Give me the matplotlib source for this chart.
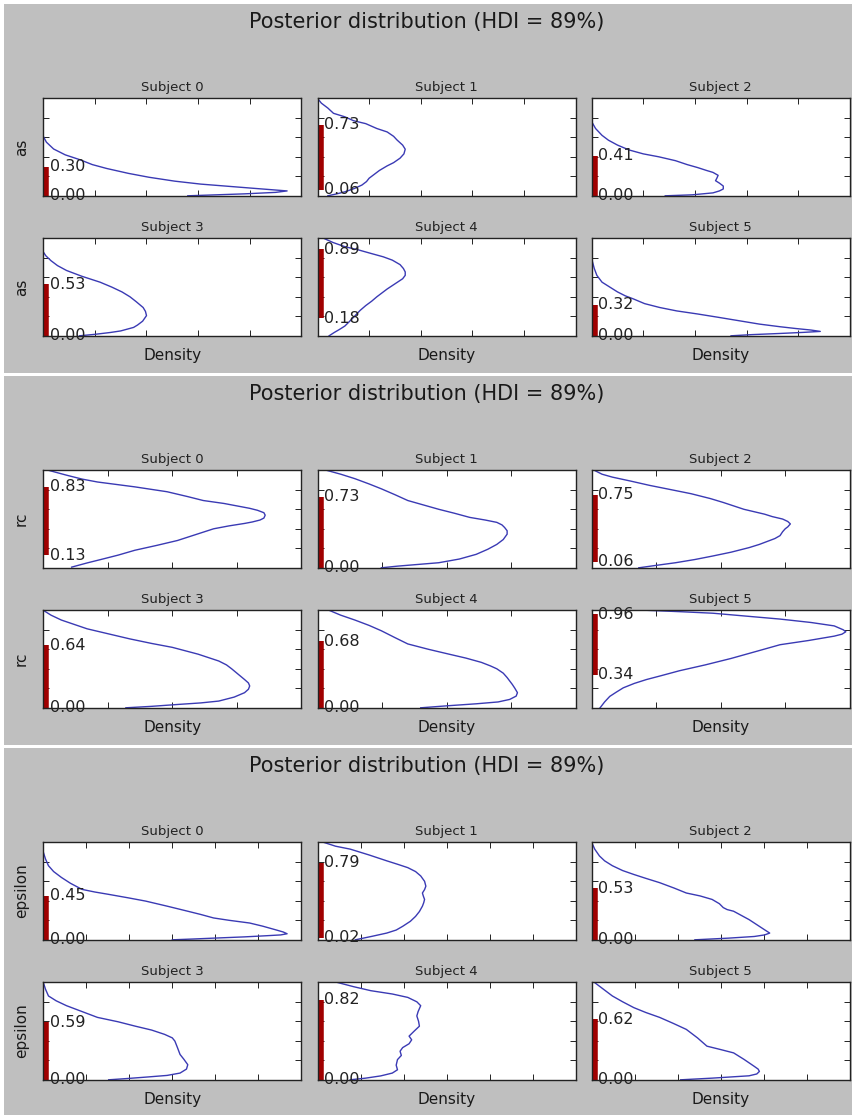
import matplotlib
matplotlib.use("Agg")
import matplotlib.pyplot as plt
from matplotlib.patches import Rectangle

# ---- data ----
subjects = ["Subject 0", "Subject 1", "Subject 2", "Subject 3", "Subject 4", "Subject 5"]
params = ["as", "rc", "epsilon"]
hdi_title = "Posterior distribution (HDI = 89%)"

# HDI bounds per subject
as_lo = [0.00, 0.06, 0.00, 0.00, 0.18, 0.00]
as_hi = [0.30, 0.73, 0.41, 0.53, 0.89, 0.32]
rc_lo = [0.13, 0.00, 0.06, 0.00, 0.00, 0.34]
rc_hi = [0.83, 0.73, 0.75, 0.64, 0.68, 0.96]
eps_lo = [0.00, 0.02, 0.00, 0.00, 0.00, 0.00]
eps_hi = [0.45, 0.79, 0.53, 0.59, 0.82, 0.62]

# density curves: parameter value (y) and density (x), one list per subject
as_y = [
    [0.61, 0.55, 0.48, 0.42, 0.37, 0.32, 0.28, 0.23, 0.19, 0.15, 0.12, 0.08, 0.05, 0.035, 0.02, 0.01, 0.0],
    [1.0, 0.95, 0.9, 0.846, 0.81, 0.77, 0.74, 0.69, 0.655, 0.61, 0.573, 0.52, 0.478, 0.43, 0.386, 0.34,
     0.307, 0.26, 0.22, 0.18, 0.146, 0.11, 0.075, 0.04, 0.017, 0.0],
    [0.76, 0.69, 0.62, 0.57, 0.52, 0.47, 0.43, 0.40, 0.36, 0.32, 0.29, 0.26, 0.24, 0.21, 0.18, 0.155,
     0.13, 0.10, 0.07, 0.05, 0.03, 0.01, 0.0],
    [0.86, 0.82, 0.77, 0.72, 0.67, 0.61, 0.55, 0.50, 0.45, 0.40, 0.35, 0.29, 0.25, 0.207, 0.15, 0.11,
     0.086, 0.05, 0.034, 0.015, 0.0],
    [1.0, 0.957, 0.914, 0.88, 0.845, 0.81, 0.776, 0.73, 0.69, 0.655, 0.62, 0.585, 0.55, 0.515, 0.48,
     0.44, 0.40, 0.355, 0.31, 0.26, 0.207, 0.15, 0.10, 0.065, 0.034, 0.0],
    [0.79, 0.74, 0.69, 0.62, 0.55, 0.50, 0.45, 0.41, 0.38, 0.33, 0.29, 0.255, 0.224, 0.19, 0.155, 0.12,
     0.093, 0.075, 0.059, 0.045, 0.035, 0.024, 0.012, 0.0],
]
as_d = [
    [0.0, 0.12, 0.4, 0.85, 1.42, 1.9, 2.46, 3.3, 4.1, 5.1, 6.1, 8.0, 9.45, 9.0, 7.8, 6.7, 5.6],
    [0.0, 0.15, 0.4, 0.62, 1.06, 1.4, 1.87, 2.3, 2.7, 2.95, 3.08, 3.3, 3.4, 3.35, 3.2, 2.95,
     2.7, 2.4, 2.2, 2.0, 1.9, 1.72, 1.43, 1.05, 0.7, 0.4],
    [0.0, 0.15, 0.4, 0.65, 1.0, 1.45, 2.0, 2.6, 3.25, 3.7, 4.1, 4.45, 4.7, 4.9, 4.85, 4.8,
     4.95, 5.1, 5.1, 4.95, 4.7, 3.9, 2.85],
    [0.0, 0.1, 0.3, 0.55, 0.9, 1.5, 2.2, 2.65, 3.05, 3.36, 3.6, 3.87, 3.96, 4.0, 3.85, 3.65,
     3.5, 3.0, 2.6, 2.0, 1.4],
    [0.24, 0.6, 1.06, 1.6, 2.07, 2.55, 2.9, 3.2, 3.33, 3.4, 3.4, 3.3, 3.1, 2.9, 2.7,
     2.5, 2.3, 2.1, 1.87, 1.65, 1.46, 1.25, 1.06, 0.85, 0.65, 0.45],
    [0.0, 0.05, 0.1, 0.2, 0.4, 0.7, 1.0, 1.3, 1.6, 2.05, 2.64, 3.3, 4.1, 4.9, 5.7, 6.5,
     7.3, 7.9, 8.5, 8.86, 8.2, 7.3, 6.2, 5.4],
]

rc_y = [
    [1.0, 0.95, 0.91, 0.88, 0.83, 0.78, 0.73, 0.69, 0.66, 0.63, 0.61, 0.59, 0.565, 0.54, 0.51, 0.49,
     0.47, 0.455, 0.43, 0.40, 0.34, 0.28, 0.23, 0.18, 0.13, 0.093, 0.05, 0.007],
    [1.0, 0.96, 0.914, 0.86, 0.81, 0.75, 0.69, 0.645, 0.60, 0.56, 0.517, 0.49, 0.466, 0.44, 0.414,
     0.38, 0.345, 0.29, 0.24, 0.19, 0.138, 0.09, 0.052, 0.017, 0.0],
    [1.0, 0.96, 0.93, 0.89, 0.845, 0.80, 0.76, 0.71, 0.67, 0.635, 0.60, 0.575, 0.55, 0.525, 0.50,
     0.475, 0.45, 0.42, 0.40, 0.37, 0.33, 0.30, 0.28, 0.24, 0.207, 0.16, 0.12, 0.085, 0.052, 0.025, 0.0],
    [1.0, 0.95, 0.90, 0.855, 0.81, 0.76, 0.707, 0.66, 0.62, 0.55, 0.48, 0.44, 0.40, 0.345, 0.29,
     0.255, 0.224, 0.19, 0.155, 0.11, 0.069, 0.05, 0.034, 0.015, 0.0],
    [1.0, 0.95, 0.90, 0.845, 0.79, 0.72, 0.655, 0.60, 0.55, 0.51, 0.466, 0.43, 0.40, 0.355, 0.31,
     0.275, 0.24, 0.20, 0.155, 0.12, 0.086, 0.06, 0.041, 0.02, 0.0],
    [1.0, 0.985, 0.97, 0.94, 0.91, 0.875, 0.84, 0.80, 0.78, 0.755, 0.735, 0.69, 0.647, 0.58, 0.506,
     0.44, 0.38, 0.33, 0.29, 0.25, 0.205, 0.16, 0.117, 0.06, 0.0],
]
rc_d = [
    [0.08, 0.36, 0.6, 0.84, 1.42, 1.92, 2.24, 2.48, 2.8, 3.04, 3.2, 3.32, 3.42, 3.44, 3.42, 3.36,
     3.24, 3.12, 2.88, 2.64, 2.36, 2.08, 1.76, 1.42, 1.16, 0.94, 0.68, 0.44],
    [0.14, 0.36, 0.58, 0.8, 0.99, 1.2, 1.4, 1.64, 1.88, 2.12, 2.36, 2.6, 2.78, 2.86, 2.9,
     2.94, 2.94, 2.88, 2.78, 2.64, 2.46, 2.2, 1.88, 1.24, 0.99],
    [0.04, 0.16, 0.32, 0.6, 0.9, 1.24, 1.54, 1.84, 2.04, 2.2, 2.36, 2.52, 2.68, 2.8, 2.96,
     3.04, 3.08, 3.04, 3.0, 2.96, 2.92, 2.84, 2.76, 2.6, 2.44, 2.16, 1.87, 1.6, 1.3, 1.0, 0.73],
    [0.0, 0.12, 0.28, 0.48, 0.68, 1.0, 1.34, 1.68, 2.0, 2.4, 2.72, 2.84, 2.92, 3.02, 3.12,
     3.18, 3.2, 3.18, 3.12, 2.96, 2.72, 2.44, 2.08, 1.68, 1.28],
    [0.18, 0.36, 0.58, 0.8, 0.99, 1.2, 1.4, 1.72, 2.04, 2.3, 2.54, 2.68, 2.78, 2.88, 2.94,
     2.98, 3.02, 3.06, 3.1, 3.08, 2.98, 2.8, 2.46, 2.0, 1.6],
    [0.85, 1.4, 1.88, 2.4, 2.92, 3.4, 3.76, 3.9, 3.94, 3.88, 3.76, 3.36, 2.92, 2.56, 2.16,
     1.76, 1.36, 1.08, 0.85, 0.66, 0.49, 0.38, 0.28, 0.2, 0.13],
]

eps_y = [
    [0.90, 0.83, 0.76, 0.70, 0.64, 0.58, 0.517, 0.49, 0.466, 0.43, 0.397, 0.345, 0.293, 0.26, 0.224,
     0.20, 0.172, 0.14, 0.103, 0.08, 0.062, 0.05, 0.041, 0.03, 0.017, 0.008, 0.0],
    [1.0, 0.96, 0.93, 0.87, 0.81, 0.775, 0.74, 0.70, 0.655, 0.60, 0.55, 0.515, 0.48, 0.45, 0.414,
     0.38, 0.345, 0.29, 0.24, 0.19, 0.138, 0.10, 0.069, 0.035, 0.0],
    [1.0, 0.93, 0.86, 0.81, 0.76, 0.71, 0.67, 0.63, 0.586, 0.53, 0.48, 0.45, 0.414, 0.37, 0.33,
     0.31, 0.293, 0.25, 0.207, 0.155, 0.103, 0.069, 0.05, 0.034, 0.017, 0.0],
    [1.0, 0.93, 0.86, 0.81, 0.76, 0.70, 0.64, 0.595, 0.55, 0.51, 0.466, 0.43, 0.397, 0.33, 0.26,
     0.21, 0.155, 0.11, 0.069, 0.045, 0.028, 0.012, 0.0],
    [1.0, 0.955, 0.914, 0.88, 0.845, 0.80, 0.76, 0.70, 0.655, 0.60, 0.55, 0.50, 0.448, 0.41, 0.37,
     0.33, 0.293, 0.25, 0.207, 0.15, 0.103, 0.069, 0.04, 0.017, 0.0],
    [1.0, 0.93, 0.86, 0.80, 0.74, 0.69, 0.64, 0.58, 0.517, 0.43, 0.345, 0.31, 0.276, 0.21, 0.138,
     0.11, 0.086, 0.06, 0.041, 0.017, 0.0],
]
eps_d = [
    [0.0, 0.05, 0.12, 0.24, 0.42, 0.63, 0.9, 1.2, 1.52, 1.98, 2.38, 2.88, 3.36, 3.66, 3.96,
     4.32, 4.8, 5.1, 5.4, 5.58, 5.67, 5.52, 5.16, 4.68, 3.96, 3.48, 3.0],
    [0.14, 0.42, 0.76, 1.2, 1.61, 1.86, 2.1, 2.28, 2.4, 2.49, 2.52, 2.49, 2.44, 2.46, 2.49,
     2.47, 2.44, 2.37, 2.28, 2.16, 1.98, 1.83, 1.61, 1.26, 0.88],
    [0.0, 0.07, 0.18, 0.3, 0.48, 0.72, 0.98, 1.26, 1.58, 1.92, 2.2, 2.52, 2.8, 2.97, 3.06,
     3.15, 3.3, 3.48, 3.66, 3.84, 4.02, 4.14, 4.02, 3.78, 3.18, 2.4],
    [0.0, 0.05, 0.12, 0.3, 0.54, 0.9, 1.26, 1.74, 2.14, 2.52, 2.82, 3.0, 3.06, 3.12, 3.18,
     3.27, 3.36, 3.33, 3.18, 2.88, 2.4, 1.92, 1.52],
    [0.45, 0.84, 1.24, 1.74, 2.1, 2.31, 2.4, 2.34, 2.31, 2.35, 2.37, 2.25, 2.13, 2.19, 2.13,
     1.98, 1.92, 1.95, 1.86, 1.83, 1.86, 1.74, 1.47, 1.12, 0.76],
    [0.06, 0.27, 0.48, 0.72, 0.98, 1.26, 1.58, 1.89, 2.2, 2.46, 2.68, 3.0, 3.3, 3.54, 3.78,
     3.87, 3.9, 3.84, 3.66, 2.8, 2.07],
]

curves_y = [as_y, rc_y, eps_y]
curves_d = [as_d, rc_d, eps_d]
hdi_lo = [as_lo, rc_lo, eps_lo]
hdi_hi = [as_hi, rc_hi, eps_hi]
x_max = [10, 4, 6]
x_step = [2, 1, 1]

# ---- layout (pixels) ----
W, H = 854, 1115
grey = "#bfbfbf"
line_col = "#3a3ab4"
bar_col = "#a00000"


def rect(left, top, w, h):
    return [left / W, 1 - (top + h) / H, w / W, h / H]


fig = plt.figure(figsize=(W / 100, H / 100), dpi=100, facecolor="white")

panel_top = [4, 376, 748]
col_left = [43.3, 317.5, 591.7]
ax_w, ax_h = 258, 97.5

for p in range(3):
    top = panel_top[p]
    bottom = min(top + 369, H)
    fig.patches.append(Rectangle((4 / W, 1 - bottom / H), 848 / W, (bottom - top) / H,
                                 transform=fig.transFigure, facecolor=grey,
                                 edgecolor="none", zorder=-10))
    fig.text(0.5, 1 - (top + 18) / H, hdi_title, ha="center", va="center", fontsize=15,
             color="#1a1a1a")
    for i in range(6):
        r, c = divmod(i, 3)
        ax = fig.add_axes(rect(col_left[c], top + 94.3 + 140 * r, ax_w, ax_h))
        ax.set_zorder(1)
        ax.plot(curves_d[p][i], curves_y[p][i], color=line_col, lw=1.0)
        ax.plot([0.012 * x_max[p]] * 2, [hdi_lo[p][i], hdi_hi[p][i]], color=bar_col, lw=4,
                solid_capstyle="butt")
        for v in (hdi_lo[p][i], hdi_hi[p][i]):
            ax.text(0.025 * x_max[p], v, "%.2f" % v, ha="left", va="center", fontsize=11.5,
                    color="#222222")
        ax.set_xlim(0, x_max[p])
        ax.set_ylim(0, 1)
        ax.set_xticks(range(x_step[p], x_max[p], x_step[p]))
        ax.set_yticks([0.2, 0.4, 0.6, 0.8])
        ax.tick_params(direction="in", top=True, right=True, labelbottom=False,
                       labelleft=False, length=4, width=0.6)
        for s in ax.spines.values():
            s.set_linewidth(1.0)
            s.set_color("#222222")
        ax.set_title(subjects[i], fontsize=9.5, pad=5, color="#222222")
        if c == 0:
            ax.set_ylabel(params[p], fontsize=11, color="#1a1a1a")
            ax.yaxis.set_label_coords(-0.055, 0.5)
        if r == 1:
            ax.set_xlabel("Density", fontsize=11, color="#1a1a1a")
            ax.xaxis.set_label_coords(0.5, -0.13)

fig.savefig("out.png", dpi=100, facecolor="white")
